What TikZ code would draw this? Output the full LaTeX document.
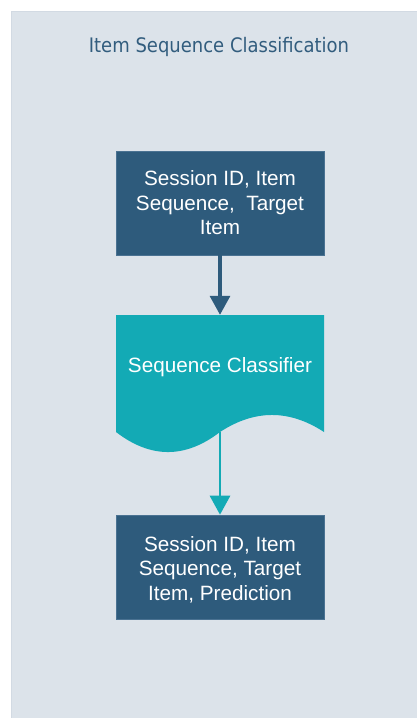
\documentclass[tikz,border=0pt]{standalone}
\usepackage{fontspec}
\setmainfont{Liberation Sans}
\newfontfamily\titlefont[FakeStretch=0.9]{DejaVu Sans}
\usetikzlibrary{arrows.meta}

\definecolor{panelbg}{HTML}{DCE3EA}
\definecolor{panelline}{HTML}{D2DAE3}
\definecolor{navy}{HTML}{2E5B7C}
\definecolor{navyline}{HTML}{4A7292}
\definecolor{teal}{HTML}{13AAB5}
\definecolor{titleblue}{HTML}{325D7E}

\tikzset{
  databox/.style={draw=navyline, line width=0.6pt, fill=navy, text=white,
    minimum width=208pt, minimum height=104pt, inner sep=0pt,
    align=center, font=\fontsize{20.7}{24.5}\selectfont},
  boxtext/.style={text=white, align=center, inner sep=0pt,
    font=\fontsize{20.7}{24.5}\selectfont},
  flow/.style={line width=3.2pt, -{Triangle[width=20pt,length=19pt]}},
}

\begin{document}
\begin{tikzpicture}[x=1pt, y=-1pt]
  \useasboundingbox (0,0) rectangle (417,718);
  % panel
  \fill[white] (0,0) rectangle (417,718);
  \draw[panelline, fill=panelbg, line width=0.8pt] (11.4,11.4) rectangle (420,722);

  % title
  \node[text=titleblue, font=\titlefont\fontsize{20}{22}\selectfont, inner sep=0pt]
    (title) at (219,47) {Item Sequence Classification};

  % input record
  \node[databox] (input) at (220,203) {};
  \node[boxtext] (inputtxt) at (220,203) {Session ID, Item\\Sequence, \ Target\\Item};

  % classifier (document shape)
  \fill[teal] (116,315) -- (324,315) -- (324,432)
    .. controls (289.3,409.3) and (254.7,409.3) .. (220,432)
    .. controls (185.3,458.7) and (150.7,458.7) .. (116,432) -- cycle;
  \node[minimum width=208pt, minimum height=117pt, inner sep=0pt] (clf) at (220,373.5) {};
  \node[boxtext] (clftxt) at (220,367) {Sequence Classifier};

  % output record
  \node[databox] (output) at (220,567) {};
  \node[boxtext] (outputtxt) at (220,569.5) {Session ID, Item\\Sequence, Target\\Item, Prediction};

  % connectors
  \draw[flow, navy] (input.south) -- (clf.north);
  \draw[flow, teal, line width=2.8pt] (clf.south) -- (output.north);
\end{tikzpicture}
\end{document}
